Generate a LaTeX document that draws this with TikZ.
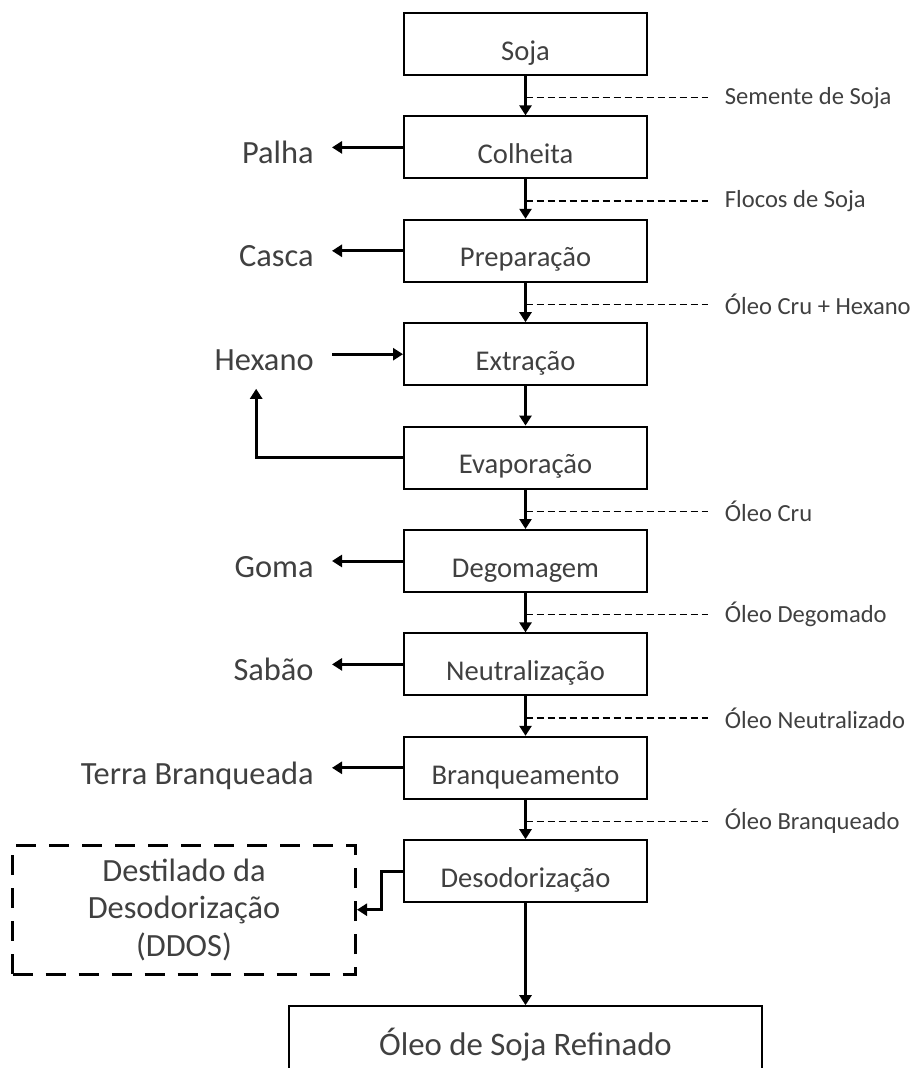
\documentclass[tikz,border=0pt]{standalone}
\usepackage{fontspec}
\setmainfont{Carlito}
\usetikzlibrary{positioning,arrows.meta}

\begin{document}
\begin{tikzpicture}[x=0.5pt,y=-0.5pt,
  stage/.style = {shape=rectangle, draw, line width=1pt, minimum width=121.5pt,
    minimum height=31pt, text height=16.5pt, text depth=0.3pt,
    font=\fontsize{14.3}{17}\selectfont, text=black!75},
  byproduct/.style = {inner sep=9pt, text height=16.2pt, text depth=0pt,
    font=\fontsize{16.2}{19}\selectfont, text=black!75},
  stream/.style = {inner sep=8.5pt, anchor=west, font=\fontsize{12.3}{15}\selectfont, text=black!75},
  flow/.style = {line width=1.5pt, -{Triangle[width=6pt,length=5pt]}},
  streamline/.style = {line width=0.6pt, dash pattern=on 3.5pt off 2pt}]
  \useasboundingbox (0,0) rectangle (914,1068);

  \node[stage] (soja) at (525.5,44) {Soja};
  \node[stage, below=19.7pt of soja] (colheita) {Colheita};
  \node[stage, below=19.7pt of colheita] (prep) {Preparação};
  \node[stage, below=19.7pt of prep] (extr) {Extração};
  \node[stage, below=19.7pt of extr] (evap) {Evaporação};
  \node[stage, below=19.7pt of evap] (degom) {Degomagem};
  \node[stage, below=19.7pt of degom] (neutr) {Neutralização};
  \node[stage, below=19.7pt of neutr] (branq) {Branqueamento};
  \node[stage, below=19.7pt of branq] (desod) {Desodorização};
  \node[stage, below=51pt of desod, minimum width=236.5pt, minimum height=36pt,
    text height=13.9pt, text depth=0.34pt,
    font=\fontsize{16.4}{19}\selectfont] (refinado) {Óleo de Soja Refinado};

  \node[byproduct, left=35.5pt of colheita] (palha) {Palha};
  \node[byproduct, left=35.5pt of prep] (casca) {Casca};
  \node[byproduct, left=35.5pt of extr] (hexano) {Hexano};
  \node[byproduct, left=35.5pt of degom] (goma) {Goma};
  \node[byproduct, left=35.5pt of neutr] (sabao) {Sabão};
  \node[byproduct, left=35.5pt of branq] (terra) {Terra Branqueada};
  \node[draw, line width=1.5pt, dash pattern=on 10pt off 6.5pt, align=center,
    minimum width=171.5pt, minimum height=64.5pt, text=black!75,
    font=\fontsize{16.2}{18.75}\selectfont, left=23pt of desod, yshift=-19.25pt]
    (ddos) {Destilado da\\ Desodorização\\ (DDOS)};

  \draw[flow] (soja) -- coordinate[pos=.55] (m1) (colheita);
  \draw[flow] (colheita) -- coordinate[pos=.55] (m2) (prep);
  \draw[flow] (prep) -- coordinate[pos=.55] (m3) (extr);
  \draw[flow] (extr) -- (evap);
  \draw[flow] (evap) -- coordinate[pos=.55] (m4) (degom);
  \draw[flow] (degom) -- coordinate[pos=.55] (m5) (neutr);
  \draw[flow] (neutr) -- coordinate[pos=.55] (m6) (branq);
  \draw[flow] (branq) -- coordinate[pos=.55] (m7) (desod);
  \draw[flow] (desod) -- (refinado);

  \draw[flow] (colheita) -- (palha);
  \draw[flow] (prep) -- (casca);
  \draw[flow] (hexano) -- (extr);
  \draw[flow] (evap.west) -| ([xshift=-4pt]hexano.south);
  \draw[flow] (degom) -- (goma);
  \draw[flow] (neutr) -- (sabao);
  \draw[flow] (branq) -- (terra);
  \draw[flow] (desod.west) -- ++(-11pt,0) |- (ddos.east);

  \node[stream, right=91pt of m1] (s1) {Semente de Soja};
  \node[stream, right=91pt of m2] (s2) {Flocos de Soja};
  \node[stream, right=91pt of m3] (s3) {Óleo Cru + Hexano};
  \node[stream, right=91pt of m4] (s4) {Óleo Cru};
  \node[stream, right=91pt of m5] (s5) {Óleo Degomado};
  \node[stream, right=91pt of m6] (s6) {Óleo Neutralizado};
  \node[stream, right=91pt of m7] (s7) {Óleo Branqueado};
  \foreach \i in {1,...,7}
    \draw[streamline] (m\i) -- (s\i);
\end{tikzpicture}
\end{document}
